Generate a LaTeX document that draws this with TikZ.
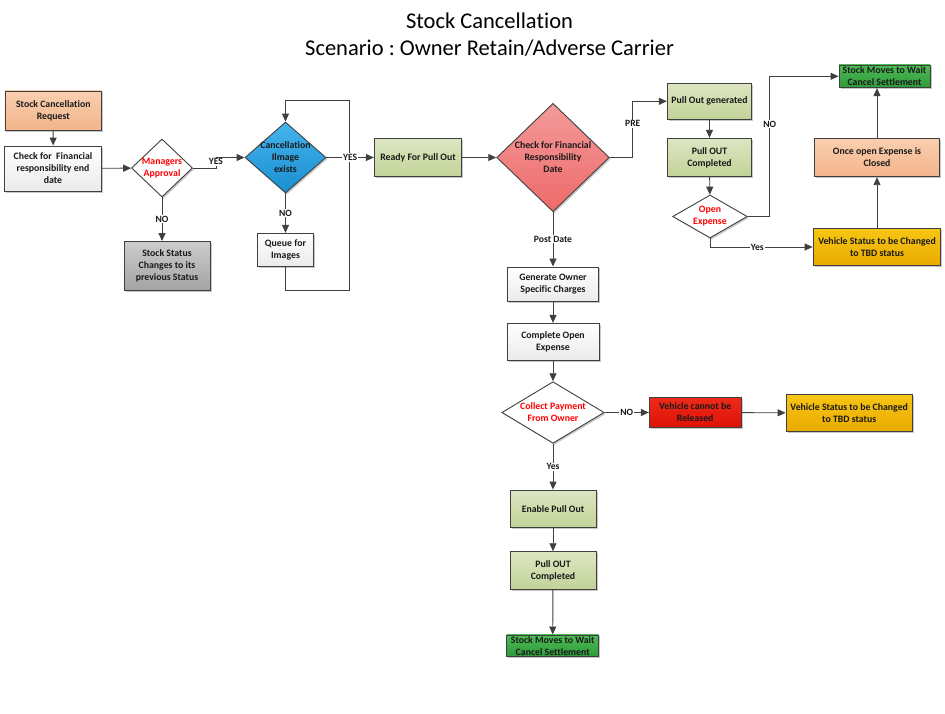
\documentclass[tikz,border=0pt]{standalone}
\usepackage{fontspec}
\setmainfont{Carlito}[Ligatures={NoCommon}]
\frenchspacing
\usetikzlibrary{shapes.geometric,arrows.meta,shadows}
\definecolor{lineC}{HTML}{404040}
\definecolor{txtC}{HTML}{1A1A1A}
\definecolor{oliveT}{HTML}{DCE6C2}
\definecolor{oliveB}{HTML}{C2D398}
\definecolor{peachT}{HTML}{F9CFB0}
\definecolor{peachB}{HTML}{F3B48A}
\definecolor{blueT}{HTML}{44B4EC}
\definecolor{blueB}{HTML}{1A8ED0}
\definecolor{pinkT}{HTML}{F49A9A}
\definecolor{pinkB}{HTML}{EE6A6A}
\definecolor{redT}{HTML}{EE2A1A}
\definecolor{redB}{HTML}{DE1206}
\definecolor{yelT}{HTML}{F7C614}
\definecolor{yelB}{HTML}{E9AA00}
\definecolor{grnT}{HTML}{4DBA55}
\definecolor{grnB}{HTML}{2E9A3A}
\tikzset{
  base/.style={draw=lineC, line width=0.9pt, font=\fontsize{9.8}{12}\selectfont\bfseries, text=txtC, align=center, inner sep=1pt,
     drop shadow={shadow xshift=1.5pt, shadow yshift=-1.5pt, opacity=0.22, fill=black}},
  bx/.style={base, rectangle, minimum width=#1},
  dia/.style={base, diamond, inner sep=0pt, aspect=1},
  whitebox/.style={top color=white, bottom color=black!8},
  olive/.style={top color=oliveT, bottom color=oliveB},
  peach/.style={top color=peachT, bottom color=peachB},
  yel/.style={top color=yelT, bottom color=yelB},
  grn/.style={top color=grnT, bottom color=grnB},
  arr/.style={draw=lineC, line width=0.9pt, -{Triangle[length=8pt,width=7pt]}},
  lbl/.style={fill=white, inner sep=1pt, font=\fontsize{9.6}{11}\selectfont\bfseries, text=txtC},
  dtext/.style={font=\fontsize{9.8}{12}\selectfont\bfseries, align=center},
}
\begin{document}
\begin{tikzpicture}[x=1pt,y=-1pt]
\useasboundingbox[fill=white] (0,0) rectangle (945,713);
% title
\node[font=\fontsize{22.5}{27}\selectfont, align=center, text=black] (title) at (489.5,34.5) {Stock Cancellation\\Scenario : Owner Retain/Adverse Carrier};

% left part
\node[bx=96.7pt, minimum height=39.7pt, peach] (req) at (53.3,110.8) {Stock Cancellation\\Request};
\node[bx=97pt, minimum height=45pt, whitebox] (cfe) at (53,168.5) {Check for\ \ Financial\\responsibility end\\date};
\node[dia, minimum width=61pt, minimum height=58pt, fill=white,
   label={[dtext, text=red]center:Managers\\Approval}] (mgr) at (162,168) {};
\node[bx=86pt, minimum height=49pt, top color=black!20, bottom color=black!36] (stst) at (167,266) {Stock Status\\Changes to its\\previous Status};
\node[dia, minimum width=81pt, minimum height=71pt, top color=blueT, bottom color=blueB,
   label={[dtext, text=txtC]center:Cancellation\\Ilmage\\exists}] (cimg) at (285.5,157.5) {};
\node[bx=55.6pt, minimum height=33.4pt, whitebox] (queue) at (285.5,250) {Queue for\\Images};
\node[bx=87.4pt, minimum height=38.4pt, olive] (rdy) at (418,157.5) {Ready For Pull Out};

% center column
\node[dia, minimum width=112.6pt, minimum height=108.4pt, top color=pinkT, bottom color=pinkB,
   label={[dtext, text=txtC]center:Check for Financial\\Responsibility\\Date}] (chk) at (553,157.5) {};
\node[bx=91.4pt, minimum height=34.7pt, whitebox] (gen) at (553,284.3) {Generate Owner\\Specific Charges};
\node[bx=92pt, minimum height=36.7pt, whitebox] (coe) at (553,341.7) {Complete Open\\Expense};
\node[dia, minimum width=102.3pt, minimum height=61.6pt, fill=white,
   label={[dtext, text=red]center:Collect Payment\\From Owner}] (cp) at (553,412.5) {};
\node[bx=91.7pt, minimum height=30.4pt, top color=redT, bottom color=redB] (vcr) at (695.2,412.5) {Vehicle cannot be\\Released};
\node[bx=126.3pt, minimum height=37.4pt, yel] (vs2) at (849.2,413) {Vehicle Status to be Changed\\to TBD status};
\node[bx=86pt, minimum height=37.3pt, olive] (epo) at (553,508.7) {Enable Pull Out};
\node[bx=86pt, minimum height=37.6pt, olive] (poc2) at (553,570.5) {Pull OUT\\Completed};
\node[bx=92pt, minimum height=21.7pt, grn, inner sep=0pt] (smw2) at (552.7,645.8) {Stock Moves to Wait\\Cancel Settlement};

% top right
\node[bx=84.4pt, minimum height=36pt, olive] (pog) at (709.5,101.3) {Pull Out generated};
\node[bx=84.4pt, minimum height=38.4pt, olive] (poc1) at (709.5,157.5) {Pull OUT\\Completed};
\node[dia, minimum width=74.6pt, minimum height=43pt, fill=white,
   label={[dtext, text=red]center:Open\\Expense}] (oe) at (710,216.5) {};
\node[bx=91pt, minimum height=22.7pt, grn, inner sep=0pt] (smw1) at (884.5,76.3) {Stock Moves to Wait\\Cancel Settlement};
\node[bx=124.3pt, minimum height=38.4pt, peach] (once) at (877,157.5) {Once open Expense is\\Closed};
\node[bx=127.7pt, minimum height=37.4pt, yel] (vs1) at (877,247) {Vehicle Status to be Changed\\to TBD status};

% connectors
\draw[arr] (req) -- (cfe);
\draw[arr] (cfe) -- (mgr);
\draw[arr] (mgr.south) -- node[lbl]{NO} (mgr.south |- stst.north);
\draw[arr] (mgr.east) -- ++(23,0) |- node[lbl, pos=0.3]{YES} (cimg.west);
\draw[arr] (cimg.south) -- node[lbl]{NO} (queue.north);
\coordinate (lpA) at (349,290);
\coordinate (lpB) at (349,100);
\draw[arr] (queue.south) |- (lpA) -- (lpB) -| (cimg.north);
\draw[arr] (cimg.east) -- node[lbl, pos=0.5]{YES} (rdy.west);
\draw[arr] (rdy) -- (chk);
\draw[arr] (chk.east) -- ++(23,0) |- node[lbl, pos=0.3]{PRE} (pog.west);
\draw[arr] (chk.south) -- node[lbl]{Post Date} (gen.north);
\draw[arr] (gen) -- (coe);
\draw[arr] (coe) -- (cp);
\draw[arr] (cp.east) -- node[lbl, pos=0.5]{NO} (vcr.west);
\draw[arr] (vcr) -- (vs2);
\draw[arr] (cp.south) -- node[lbl, pos=0.5]{Yes} (epo.north);
\draw[arr] (epo) -- (poc2);
\draw[arr] (poc2) -- (smw2);
\draw[arr] (pog) -- (poc1);
\draw[arr] (poc1) -- (oe);
\draw[arr] (oe.east) -- ++(22,0) |- node[lbl, pos=0.33]{NO} (smw1.west);
\draw[arr] (oe.south) |- node[lbl, pos=0.73]{Yes} (vs1.west);
\draw[arr] (vs1) -- (once);
\draw[arr] (once.north) -- (once.north |- smw1.south);
\end{tikzpicture}
\end{document}
